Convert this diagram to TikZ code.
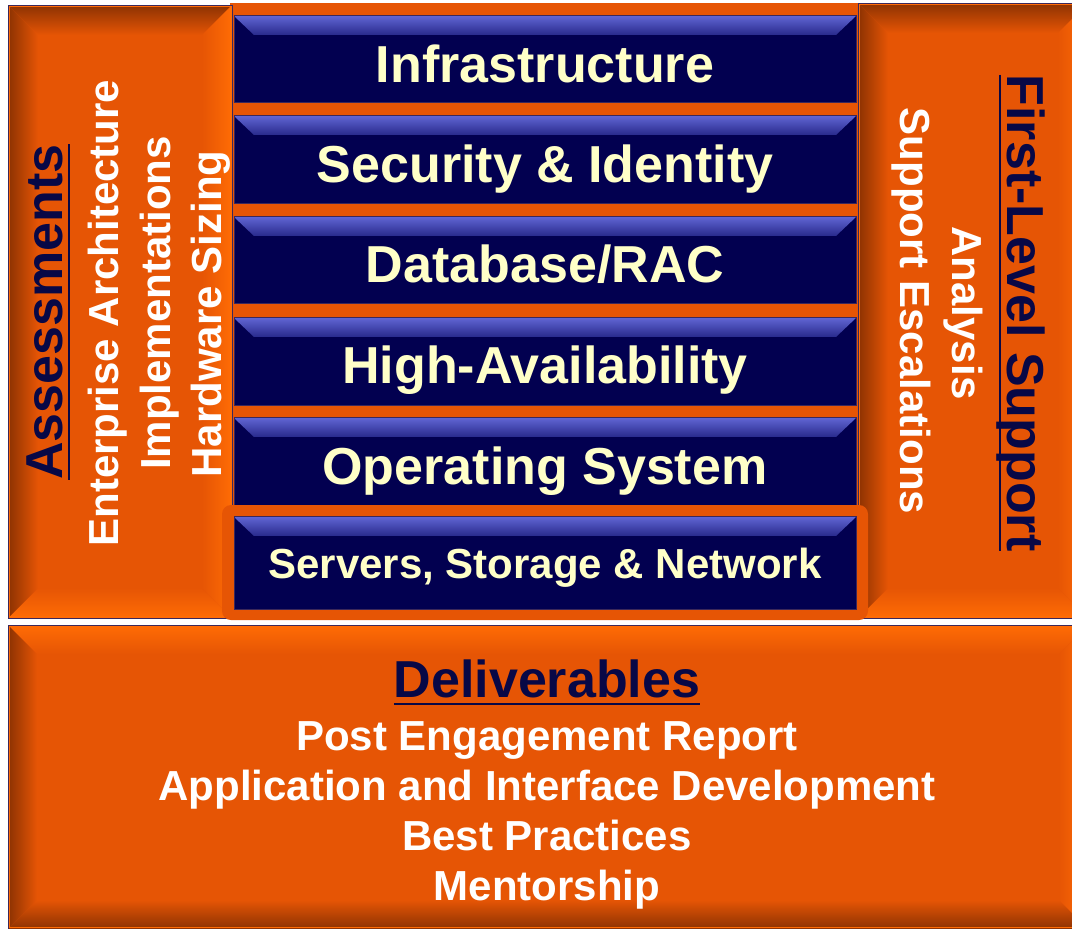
\documentclass[tikz,border=0pt]{standalone}
\usepackage{fontspec}
\setmainfont{Liberation Sans}
\definecolor{orng}{RGB}{230,85,5}
\definecolor{lorng}{RGB}{255,108,5}
\definecolor{dorng}{RGB}{140,50,2}
\definecolor{navy}{RGB}{2,0,80}
\definecolor{bevblue}{RGB}{96,100,210}
\definecolor{bevblue2}{RGB}{40,42,140}
\definecolor{paleyel}{RGB}{255,255,200}
\definecolor{hnavy}{RGB}{8,8,70}
\definecolor{edgecol}{RGB}{60,40,90}
\newcommand\fbig{\fontsize{52}{60}\selectfont\bfseries}
\newcommand\fmid{\fontsize{42}{50}\selectfont\bfseries}
\newcommand\myul[1]{\setbox0=\hbox{#1}\rlap{\raisebox{-8pt}{\rule{\wd0}{2.2pt}}}\box0}
% bevelled box: x1 ytop x2 ybottom width topcol leftcol rightcol bottomcol
\newcommand\bevbox[9]{%
  \fill[orng] (#1,-#2) rectangle (#3,-#4);
  \shade[top color=#6,bottom color=orng] (#1,-#2) -- (#3,-#2) -- ({#3-#5},{-(#2+#5)}) -- ({#1+#5},{-(#2+#5)}) -- cycle;
  \shade[top color=orng,bottom color=#9] (#1,-#4) -- (#3,-#4) -- ({#3-#5},{-(#4-#5)}) -- ({#1+#5},{-(#4-#5)}) -- cycle;
  \shade[left color=#7,right color=orng] (#1,-#2) -- ({#1+#5},{-(#2+#5)}) -- ({#1+#5},{-(#4-#5)}) -- (#1,-#4) -- cycle;
  \shade[left color=orng,right color=#8] (#3,-#2) -- ({#3-#5},{-(#2+#5)}) -- ({#3-#5},{-(#4-#5)}) -- (#3,-#4) -- cycle;
  \draw[lorng,line width=1.5pt] ({#1+1.5},{-(#2+1.5)}) rectangle ({#3-1.5},{-(#4-1.5)});
  \draw[edgecol,line width=0.8pt] (#1,-#2) rectangle (#3,-#4);
}
% navy bar with top bevel: ytop ybottom
\newcommand\navybar[2]{%
  \fill[navy] (234,-#1) rectangle (856,-#2);
  \shade[top color=bevblue,bottom color=bevblue2] (234,{-(#1+1)}) -- (856,{-(#1+1)}) -- (836,{-(#1+20)}) -- (254,{-(#1+20)}) -- cycle;
  \fill[navy] (254,{-(#1+19.5)}) rectangle (836,{-(#1+21)});
  \draw[edgecol,line width=0.6pt] (234,-#1) rectangle (856,-#2);
}
\tikzset{
  bartxt/.style={anchor=base,inner sep=0pt,text=paleyel,font=\fbig},
  headtxt/.style={anchor=base,inner sep=0pt,text=hnavy,font=\fbig},
  bodytxt/.style={anchor=base,inner sep=0pt,text=white,font=\fmid}
}
\begin{document}
\begin{tikzpicture}[x=1pt,y=1pt]
\useasboundingbox (0,0) rectangle (1072,-929);
\clip (0,0) rectangle (1072,-929);
\fill[white] (0,0) rectangle (1072,-929);
% centre orange field
\fill[orng] (230,-3) rectangle (860,-620);
% side and bottom boxes
\bevbox{8}{5}{232}{618}{30}{dorng}{dorng}{lorng}{lorng}
\bevbox{858}{3}{1088}{618}{30}{dorng}{dorng}{lorng}{lorng}
\bevbox{8}{625}{1088}{929}{29}{lorng}{dorng}{lorng}{dorng}
% layer bars
\navybar{15}{102}
\navybar{115}{203}
\navybar{216}{303}
\navybar{317}{405}
\navybar{417}{505}
\fill[orng,rounded corners=9pt] (222,-505) rectangle (868,-620);
\navybar{516}{609}
% bar texts
\node[bartxt] (t1) at (545,-82) {Infrastructure};
\node[bartxt] (t2) at (545,-182) {Security \& Identity};
\node[bartxt] (t3) at (545,-282) {Database/RAC};
\node[bartxt] (t4) at (545,-383) {High-Availability};
\node[bartxt] (t5) at (545,-484) {Operating System};
\node[bartxt,font=\fmid] (t6) at (545,-578) {Servers, Storage \& Network};
% left column
\node[headtxt,rotate=90] (lh) at (62,-312) {\myul{Assessments}};
\node[bodytxt,rotate=90] (l1) at (118,-313) {Enterprise Architecture};
\node[bodytxt,rotate=90] (l2) at (170,-303) {Implementations};
\node[bodytxt,rotate=90] (l3) at (221,-314) {Hardware Sizing};
% right column
\node[headtxt,rotate=-90] (rh) at (1007,-313) {\myul{First-Level Support}};
\node[bodytxt,rotate=-90] (r1) at (952,-313) {Analysis};
\node[bodytxt,rotate=-90] (r2) at (900,-311) {Support Escalations};
% bottom
\node[headtxt] (bh) at (547,-697) {\myul{Deliverables}};
\node[bodytxt] (b1) at (547,-750) {Post Engagement Report};
\node[bodytxt] (b2) at (547,-800) {Application and Interface Development};
\node[bodytxt] (b3) at (547,-850) {Best Practices};
\node[bodytxt] (b4) at (547,-900) {Mentorship};
\end{tikzpicture}
\end{document}
